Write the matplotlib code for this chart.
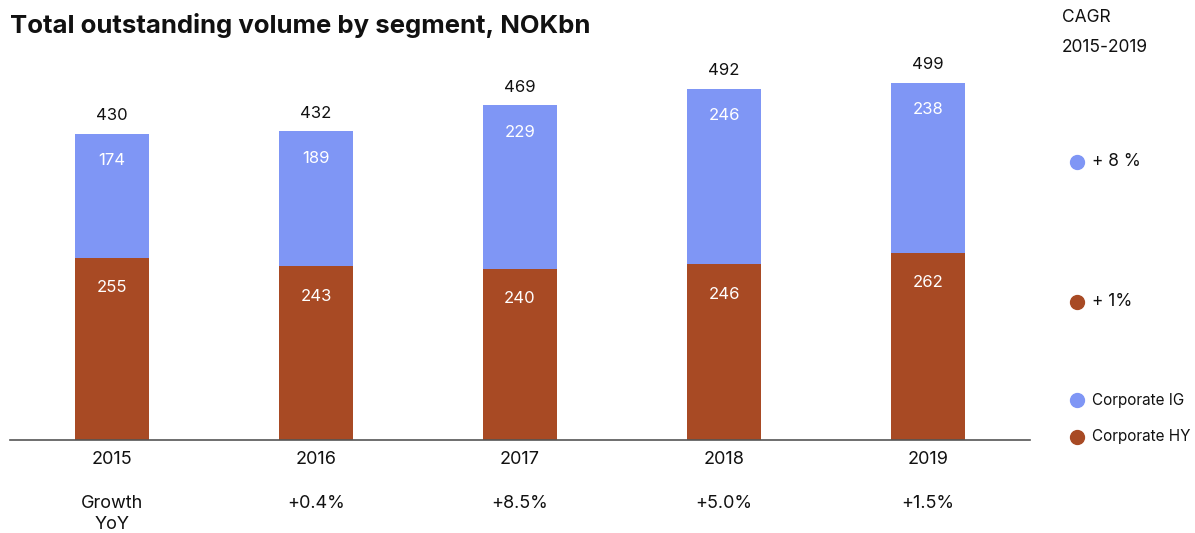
import matplotlib.pyplot as plt

plt.rcParams['font.family'] = ['Inter', 'DejaVu Sans']

years = ['2015', '2016', '2017', '2018', '2019']
hy = [255, 243, 240, 246, 262]
ig = [174, 189, 229, 246, 238]
totals = [430, 432, 469, 492, 499]
growth = ['Growth\nYoY', '+0.4%', '+8.5%', '+5.0%', '+1.5%']
cagr = ['+ 8 %', '+ 1%']

ig_col = '#7f96f5'
hy_col = '#a84a24'

fig = plt.figure(figsize=(11.95, 5.33), dpi=100)
ax = fig.add_axes([10 / 1195, 93 / 533, 1020 / 1195, 380 / 533])

x = range(len(years))
ax.bar(x, hy, width=0.363, color=hy_col)
ax.bar(x, ig, width=0.363, bottom=hy, color=ig_col)

for i in x:
    ax.annotate(str(hy[i]), (i, hy[i]), xytext=(0, -30), textcoords='offset pixels',
                ha='center', va='center', color='white', fontsize=12)
    ax.annotate(str(ig[i]), (i, hy[i] + ig[i]), xytext=(0, -27), textcoords='offset pixels',
                ha='center', va='center', color='white', fontsize=12)
    ax.annotate(str(totals[i]), (i, hy[i] + ig[i]), xytext=(0, 18), textcoords='offset pixels',
                ha='center', va='center', color='#111111', fontsize=12)
    ax.annotate(years[i], (i, 0), xytext=(0, -20), textcoords='offset pixels',
                ha='center', va='center', color='#111111', fontsize=13)
    off = -74 if i == 0 else -63
    ax.annotate(growth[i], (i, 0), xytext=(0, off), textcoords='offset pixels',
                ha='center', va='center', color='#111111',
                fontsize=13, linespacing=1.3)

ax.set_xlim(-0.5, 4.5)
ax.set_ylim(0, 532)
for s in ['top', 'right', 'left']:
    ax.spines[s].set_visible(False)
ax.spines['bottom'].set_color('#555555')
ax.spines['bottom'].set_linewidth(1.2)
ax.set_xticks([])
ax.set_yticks([])

fig.text(10 / 1195, 1 - 25 / 533, 'Total outstanding volume by segment, NOKbn',
         fontsize=18.5, fontweight='bold', ha='left', va='center', color='#111111')

fig.text(1062 / 1195, 1 - 18 / 533, 'CAGR', fontsize=12.5, ha='left', va='center', color='#111111')
fig.text(1062 / 1195, 1 - 47 / 533, '2015-2019', fontsize=12.5, ha='left', va='center', color='#111111')

legend_rows = [(162, ig_col, cagr[0], 12.5), (302, hy_col, cagr[1], 12.5),
               (400, ig_col, 'Corporate IG', 11), (437, hy_col, 'Corporate HY', 11)]
for y, c, t, fs in legend_rows:
    fig.lines.append(plt.Line2D([1077 / 1195], [1 - y / 533], marker='o', markersize=10,
                                color=c, transform=fig.transFigure))
    fig.text(1092 / 1195, 1 - y / 533, t, fontsize=fs, ha='left', va='center', color='#111111')

fig.savefig('out.png', dpi=100, facecolor='white')
